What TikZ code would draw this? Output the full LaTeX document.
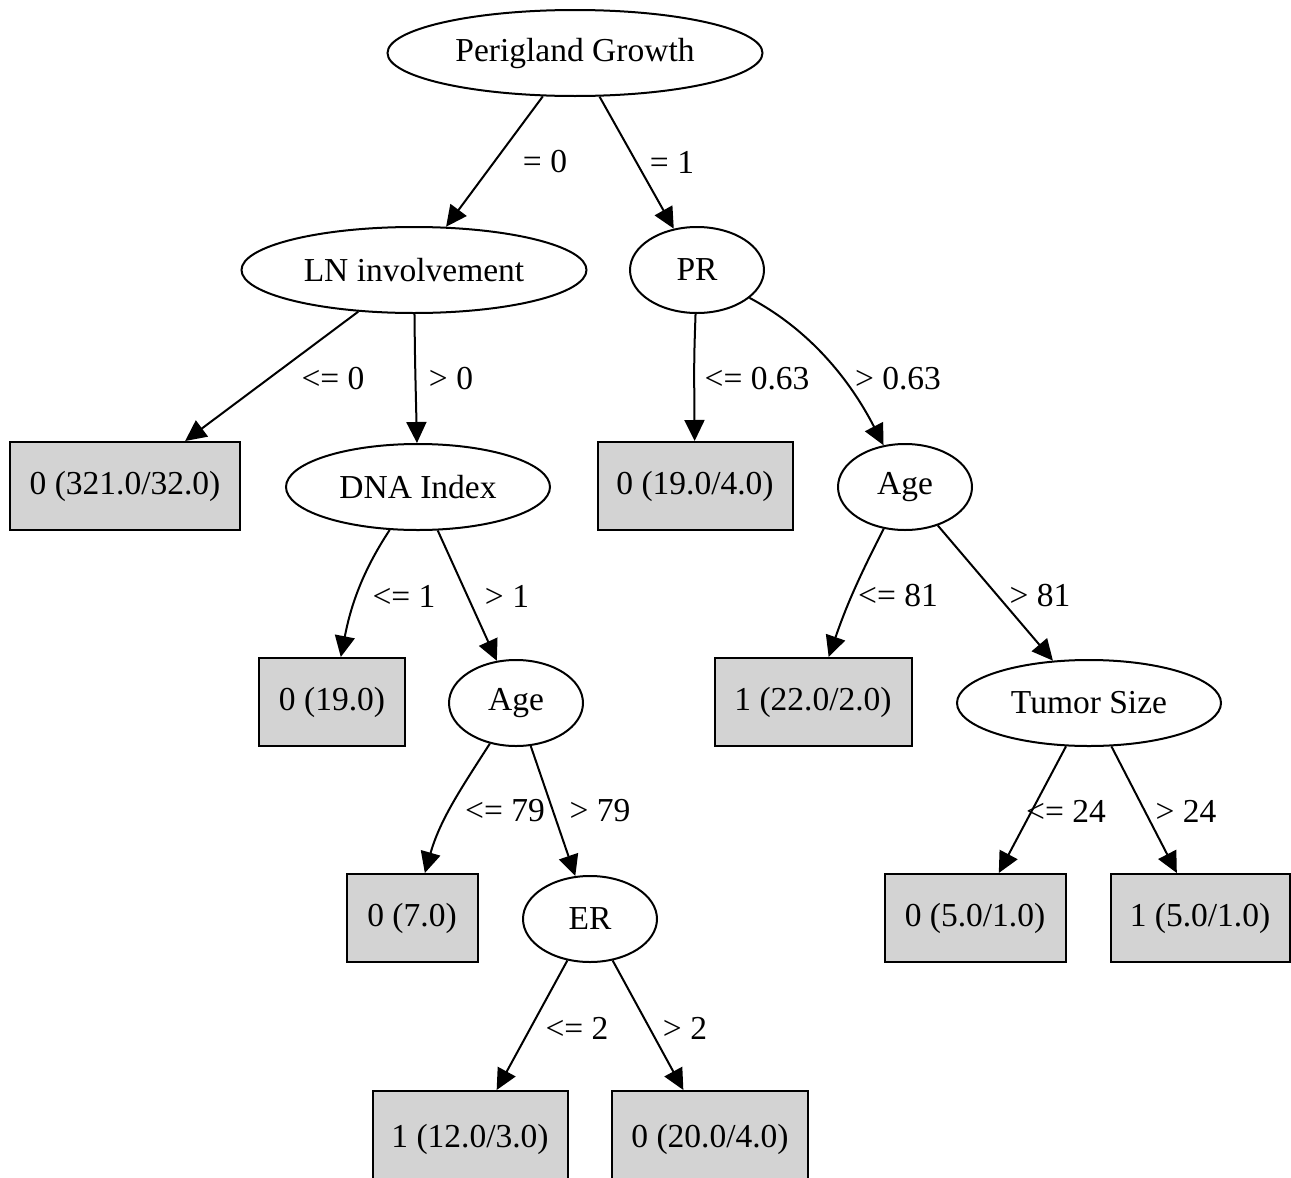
\documentclass[tikz,border=0pt]{standalone}
\usepackage{fontspec}
\setmainfont{Liberation Serif}
\usetikzlibrary{shapes.geometric,arrows.meta}
\begin{document}
\begin{tikzpicture}[x=1pt,y=-1pt,
  every node/.style={font=\fontsize{33.5}{38}\selectfont},
  split/.style={draw,ellipse,line width=2pt,inner sep=0pt,minimum height=86pt},
  leaf/.style={draw,rectangle,line width=2pt,fill={rgb,255:red,211;green,211;blue,211},inner sep=0pt,minimum height=88pt},
  edge/.style={line width=2pt,-{Triangle[length=21pt,width=20pt]}},
  lbl/.style={inner sep=0pt}]
\useasboundingbox (0,0) rectangle (1291,1178);
\node[split,minimum width=375pt] (pg) at (575,53) {Perigland Growth};
\node[split,minimum width=345pt] (ln) at (414,270) {LN involvement};
\node[split,minimum width=134pt] (pr) at (697,270) {PR};
\node[leaf,minimum width=230pt] (l1) at (125,486) {0 (321.0/32.0)};
\node[split,minimum width=264pt] (dna) at (418,487) {DNA Index};
\node[leaf,minimum width=195pt] (l2) at (695,486) {0 (19.0/4.0)};
\node[split,minimum width=134pt] (ager) at (905,487) {Age};
\node[leaf,minimum width=146pt] (l3) at (332,702) {0 (19.0)};
\node[split,minimum width=134pt] (agem) at (516,703) {Age};
\node[leaf,minimum width=197pt] (l4) at (813,702) {1 (22.0/2.0)};
\node[split,minimum width=264pt] (ts) at (1089,703) {Tumor Size};
\node[leaf,minimum width=131pt] (l5) at (412,918) {0 (7.0)};
\node[split,minimum width=134pt] (er) at (590,919) {ER};
\node[leaf,minimum width=181pt] (l6) at (975,918) {0 (5.0/1.0)};
\node[leaf,minimum width=179pt] (l7) at (1200,918) {1 (5.0/1.0)};
\node[leaf,minimum width=195pt,minimum height=96pt] (l8) at (470,1139) {1 (12.0/3.0)};
\node[leaf,minimum width=196pt,minimum height=96pt] (l9) at (710,1139) {0 (20.0/4.0)};

\draw[edge] (pg) -- (ln);
\draw[edge] (pg) -- (pr);
\draw[edge] (ln) -- (l1);
\draw[edge] (ln) .. controls (415,360) .. (dna);
\draw[edge] (pr) .. controls (694,360) .. (l2);
\draw[edge] (pr) .. controls (810,330) and (850,380) .. (ager);
\draw[edge] (dna) .. controls (360,575) and (350,610) .. (l3);
\draw[edge] (dna) -- (agem);
\draw[edge] (ager) .. controls (855,585) and (845,610) .. (l4);
\draw[edge] (ager) -- (ts);
\draw[edge] (agem) .. controls (460,790) and (440,820) .. (l5);
\draw[edge] (agem) -- (er);
\draw[edge] (ts) -- (l6);
\draw[edge] (ts) -- (l7);
\draw[edge] (er) -- (l8);
\draw[edge] (er) -- (l9);

\node[lbl] (e1) at (545,162) {= 0};
\node[lbl] (e2) at (672,162) {= 1};
\node[lbl] (e3) at (333,379) {<= 0};
\node[lbl] (e4) at (451,379) {> 0};
\node[lbl] (e5) at (757,379) {<= 0.63};
\node[lbl] (e6) at (898,379) {> 0.63};
\node[lbl] (e7) at (404,596) {<= 1};
\node[lbl] (e8) at (507,596) {> 1};
\node[lbl] (e9) at (898,596) {<= 81};
\node[lbl] (e10) at (1040,596) {> 81};
\node[lbl] (e11) at (505,811) {<= 79};
\node[lbl] (e12) at (600,811) {> 79};
\node[lbl] (e13) at (1066,811) {<= 24};
\node[lbl] (e14) at (1186,811) {> 24};
\node[lbl] (e15) at (577,1028) {<= 2};
\node[lbl] (e16) at (685,1028) {> 2};
\end{tikzpicture}
\end{document}
